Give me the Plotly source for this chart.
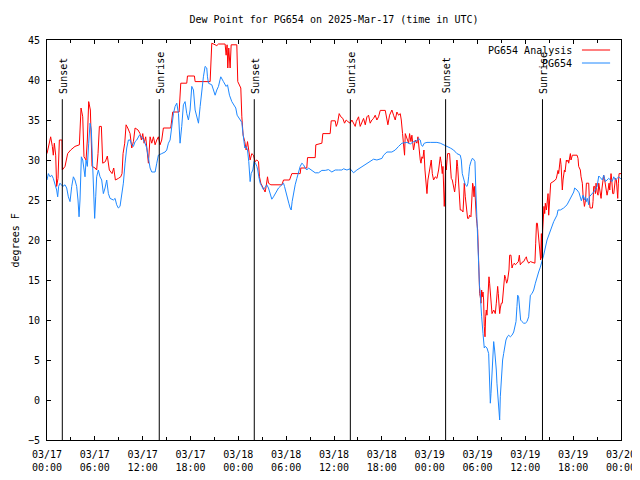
import pandas as pd
import plotly.graph_objects as go

BASE = pd.Timestamp("2025-03-17 00:00")

# hours since 03/17 00:00 UTC, dew point (F)
analysis_hours = [0.0, 0.17, 0.46, 0.67, 0.79, 0.92, 1.09, 1.21, 1.38, 1.55, 1.88, 1.92, 2.26, 2.59, 2.97, 3.51, 4.06, 4.27, 4.48, 4.64,
    4.90, 5.06, 5.23, 5.44, 5.65, 6.03, 6.23, 6.40, 6.57, 6.82, 6.99, 7.32, 7.57, 7.82, 8.16, 8.37, 8.58, 8.95, 9.25, 9.41,
    9.54, 9.75, 9.92, 10.13, 10.42, 10.63, 10.84, 11.05, 11.42, 11.67, 11.84, 12.01, 12.18, 12.38, 12.55, 12.72, 12.93, 13.14, 13.35, 13.56,
    13.77, 13.97, 14.18, 14.39, 14.60, 15.52, 15.65, 15.77, 16.57, 16.69, 16.78, 17.53, 17.62, 18.49, 18.58, 20.46, 20.54, 20.67, 21.30, 21.51,
    22.34, 22.47, 22.59, 22.68, 22.80, 22.97, 23.10, 23.81, 23.93, 24.14, 24.31, 24.44, 24.60, 24.81, 24.98, 25.15, 25.31, 25.48, 25.69, 25.90,
    26.10, 26.32, 26.53, 26.65, 26.82, 27.07, 27.36, 27.49, 27.66, 27.78, 28.08, 29.46, 29.67, 30.42, 30.71, 31.76, 31.84, 32.59, 32.68, 33.64,
    33.72, 34.48, 34.60, 35.52, 35.65, 36.15, 36.28, 36.44, 36.65, 36.86, 37.11, 37.32, 37.53, 37.74, 38.03, 38.24, 38.45, 38.66, 38.79, 39.08,
    39.29, 39.50, 39.71, 39.92, 40.13, 40.33, 40.54, 40.75, 40.96, 41.17, 41.38, 41.59, 41.80, 42.43, 42.64, 42.76, 42.97, 43.26, 43.47, 43.68,
    43.89, 44.10, 44.31, 44.44, 44.60, 44.73, 44.85, 44.94, 45.15, 45.36, 45.48, 45.65, 45.77, 45.98, 46.19, 46.40, 46.53, 46.65, 46.82, 46.91,
    47.03, 47.15, 47.28, 47.41, 47.53, 47.66, 47.78, 47.95, 48.08, 48.20, 48.33, 48.49, 48.70, 48.91, 49.12, 49.25, 49.33, 49.46, 49.58, 49.67,
    49.75, 49.83, 49.92, 50.0, 50.08, 50.17, 50.25, 50.50, 50.59, 50.71, 50.84, 51.0, 51.13, 51.26, 51.34, 51.42, 51.51, 51.63, 51.72, 51.84,
    52.01, 52.18, 52.26, 52.34, 52.47, 52.59, 52.76, 52.89, 53.01, 53.18, 53.31, 53.39, 53.47, 53.56, 53.64, 53.72, 53.85, 53.93, 54.02, 54.10,
    54.18, 54.27, 54.35, 54.44, 54.52, 54.60, 54.69, 54.77, 54.85, 54.94, 55.02, 55.10, 55.19, 55.27, 55.36, 55.44, 55.52, 55.61, 55.69, 55.82,
    56.03, 56.23, 56.36, 56.44, 56.53, 56.61, 56.69, 56.78, 56.86, 56.99, 57.11, 57.20, 57.32, 57.41, 57.53, 57.66, 57.78, 57.95, 58.03, 58.20,
    58.33, 58.45, 58.62, 58.74, 58.95, 59.12, 59.25, 59.37, 59.58, 59.79, 60.0, 60.13, 60.21, 60.42, 60.63, 60.84, 61.05, 61.20, 61.30, 61.40,
    61.51, 61.59, 61.67, 61.76, 61.84, 61.92, 62.01, 62.09, 62.18, 62.26, 62.34, 62.43, 62.51, 62.64, 62.72, 62.85, 62.93, 63.01, 63.10, 63.18,
    63.35, 63.56, 63.77, 63.89, 63.97, 64.10, 64.18, 64.31, 64.39, 64.48, 64.56, 64.64, 64.73, 64.81, 64.90, 64.98, 65.06, 65.15, 65.23, 65.36,
    65.44, 65.56, 65.65, 65.73, 65.82, 65.90, 66.49, 66.61, 66.69, 66.82, 66.90, 66.99, 67.07, 67.15, 67.24, 67.32, 67.41, 67.49, 67.57, 67.66,
    67.95, 68.03, 68.12, 68.41, 68.49, 68.58, 68.70, 68.79, 68.87, 69.0, 69.12, 69.21, 69.33, 69.41, 69.50, 69.62, 69.71, 69.83, 69.92, 70.04,
    70.17, 70.25, 70.38, 70.50, 70.59, 70.67, 70.75, 70.84, 70.96, 71.09, 71.17, 71.30, 71.42, 71.51, 71.59, 71.67, 71.76, 72.0]
analysis_dewpt = [30.8, 31.5, 32.9, 31.7, 30.6, 32.1, 30.6, 26.7, 27.7, 32.5, 32.5, 28.75, 29.2, 30.8, 31.25, 31.7, 31.9, 36.5, 35.4, 30.4,
    30.0, 32.5, 37.3, 36.25, 29.2, 29.0, 28.75, 30.8, 34.2, 34.2, 29.6, 29.8, 30.5, 28.75, 28.3, 29.0, 27.5, 27.7, 27.9, 28.3,
    30.8, 32.1, 34.4, 34.0, 33.3, 31.5, 32.3, 34.0, 33.75, 33.3, 32.5, 33.3, 32.1, 32.9, 31.25, 29.6, 32.9, 32.1, 32.9, 31.9,
    32.5, 32.9, 31.9, 32.5, 34.0, 34.0, 35.0, 36.0, 36.0, 37.7, 39.6, 39.6, 40.5, 40.5, 39.8, 39.8, 42.1, 44.6, 44.3, 44.5,
    44.5, 43.1, 44.4, 41.5, 44.0, 41.5, 44.4, 44.4, 39.8, 39.4, 39.0, 35.4, 33.1, 32.3, 31.25, 32.3, 30.8, 30.0, 30.8, 30.6,
    29.8, 30.0, 29.8, 27.9, 27.1, 26.5, 26.0, 26.7, 27.9, 27.1, 26.9, 26.9, 27.5, 27.5, 28.3, 28.3, 29.0, 29.0, 30.3, 30.3,
    31.9, 32.1, 33.3, 33.3, 34.9, 34.9, 34.2, 34.6, 35.8, 35.4, 35.2, 34.6, 35.0, 34.8, 34.6, 35.0, 34.6, 34.2, 34.8, 35.4,
    34.2, 34.8, 35.2, 34.4, 35.4, 35.6, 34.6, 35.0, 35.2, 35.6, 35.0, 35.4, 36.2, 36.2, 34.6, 34.4, 35.6, 36.25, 35.6, 35.0,
    36.0, 35.6, 35.8, 35.0, 33.3, 32.1, 30.6, 33.3, 32.7, 32.1, 33.3, 32.3, 33.1, 31.25, 32.5, 32.1, 32.9, 31.25, 30.0, 29.6,
    30.4, 30.2, 31.25, 28.75, 27.7, 25.8, 27.5, 28.5, 28.75, 30.0, 28.3, 27.5, 27.9, 27.7, 28.75, 29.6, 30.4, 29.6, 28.3, 29.2,
    25.8, 24.2, 26.25, 30.0, 28.75, 30.4, 30.8, 30.8, 29.2, 27.7, 27.5, 26.7, 26.0, 27.1, 29.0, 30.0, 29.2, 27.5, 25.4, 23.75,
    23.75, 23.5, 25.0, 27.1, 25.4, 24.2, 22.7, 22.7, 23.1, 22.9, 25.0, 27.1, 26.7, 25.4, 26.7, 24.2, 22.9, 22.1, 21.25, 18.75,
    15.4, 13.3, 12.9, 12.1, 13.75, 12.9, 13.5, 12.5, 9.2, 7.9, 10.4, 11.25, 10.6, 12.1, 14.6, 15.4, 14.6, 13.3, 12.5, 10.8,
    11.25, 10.8, 12.1, 13.75, 14.2, 13.3, 12.1, 10.8, 11.5, 12.1, 12.1, 13.1, 14.2, 15.6, 15.2, 14.6, 15.0, 16.25, 18.1, 18.1,
    16.5, 16.9, 17.1, 16.9, 17.1, 17.3, 18.1, 16.9, 17.2, 17.3, 17.7, 17.9, 17.5, 17.1, 17.3, 17.2, 17.2, 17.1, 19.6, 22.1,
    22.1, 21.25, 20.0, 19.2, 17.7, 17.5, 20.8, 17.7, 21.25, 23.3, 24.2, 23.3, 24.6, 23.75, 25.0, 25.8, 23.1, 25.0, 26.25, 27.1,
    27.2, 27.3, 27.5, 27.7, 28.3, 28.7, 28.3, 29.6, 30.2, 29.4, 28.3, 26.25, 27.5, 27.9, 28.75, 28.5, 29.2, 30.0, 29.8, 30.0,
    29.6, 30.2, 30.8, 30.0, 30.2, 30.6, 30.6, 30.2, 29.2, 29.0, 28.75, 27.9, 27.5, 27.1, 25.6, 24.8, 24.2, 24.6, 25.2, 27.1,
    27.1, 25.0, 24.0, 24.0, 24.8, 26.7, 26.7, 25.8, 27.1, 26.0, 25.6, 27.1, 26.25, 25.6, 25.2, 26.5, 27.7, 28.1, 27.7, 27.1,
    26.25, 25.6, 26.25, 27.1, 26.25, 28.3, 28.3, 27.5, 25.8, 25.8, 26.9, 27.7, 27.5, 25.8, 25.2, 27.1, 28.3, 28.3]

station_hours = [0.0, 0.17, 0.38, 0.59, 0.79, 1.0, 1.21, 1.34, 1.46, 1.63, 1.97, 2.26, 2.47, 2.68, 2.89, 3.10, 3.31, 3.51, 3.72, 3.89,
    4.02, 4.14, 4.31, 4.48, 4.64, 4.77, 4.90, 5.06, 5.23, 5.40, 5.56, 5.73, 5.90, 5.98, 6.11, 6.23, 6.44, 6.65, 6.86, 7.07,
    7.28, 7.49, 7.70, 7.91, 8.33, 8.54, 8.74, 8.95, 9.16, 9.37, 9.58, 9.79, 10.0, 10.21, 10.42, 10.63, 10.84, 11.05, 11.26, 11.59,
    11.88, 12.09, 12.30, 12.51, 12.72, 12.93, 13.14, 13.56, 13.77, 13.97, 14.39, 14.81, 15.02, 15.23, 15.44, 15.65, 15.86, 16.07, 16.28, 16.49,
    16.69, 16.90, 17.11, 17.32, 17.53, 17.74, 17.95, 18.16, 18.37, 18.58, 18.79, 19.0, 19.21, 19.41, 19.62, 19.83, 20.04, 20.13, 20.25, 20.67,
    20.88, 21.09, 21.30, 21.51, 21.72, 21.80, 22.13, 22.47, 22.64, 22.89, 23.18, 23.47, 23.68, 23.85, 24.23, 24.44, 24.56, 24.69, 24.81, 24.98,
    25.15, 25.31, 25.48, 25.61, 25.82, 25.98, 26.15, 26.32, 26.44, 26.57, 26.74, 26.95, 27.15, 27.36, 27.57, 27.78, 27.99, 28.20, 28.41, 28.62,
    28.83, 29.04, 29.25, 29.46, 29.67, 29.79, 30.0, 30.17, 30.33, 30.50, 30.63, 30.75, 30.92, 31.13, 31.34, 31.55, 31.76, 31.97, 32.18, 32.38,
    32.59, 32.80, 33.22, 33.64, 34.06, 34.48, 34.90, 35.31, 35.73, 36.15, 36.57, 36.99, 37.20, 37.62, 38.03, 38.24, 38.45, 38.87, 39.29, 39.71,
    40.13, 40.54, 40.96, 41.38, 41.80, 42.01, 42.22, 42.64, 43.26, 43.68, 44.10, 44.52, 45.15, 45.56, 45.98, 46.40, 46.61, 46.82, 46.95, 47.11,
    47.32, 47.66, 48.08, 48.49, 48.91, 49.33, 49.75, 50.17, 50.59, 51.0, 51.42, 51.84, 51.97, 52.09, 52.26, 52.47, 52.68, 52.80, 52.89, 53.01,
    53.18, 53.35, 53.51, 53.68, 53.79, 53.91, 54.0, 54.08, 54.16, 54.25, 54.31, 54.39, 54.52, 54.69, 54.77, 54.85, 54.98, 55.19, 55.40, 55.52,
    55.61, 55.69, 55.82, 55.94, 56.03, 56.15, 56.23, 56.36, 56.44, 56.53, 56.65, 56.78, 56.86, 56.94, 57.07, 57.15, 57.28, 57.41, 57.57, 57.74,
    57.91, 58.12, 58.33, 58.54, 58.66, 58.83, 58.95, 59.04, 59.16, 59.29, 59.41, 59.58, 59.79, 60.0, 60.21, 60.42, 60.54, 60.63, 60.84, 61.05,
    61.26, 61.46, 61.67, 61.88, 62.09, 62.30, 62.72, 63.14, 63.56, 63.97, 64.10, 64.39, 64.81, 65.23, 65.65, 66.07, 66.19, 66.49, 66.74, 66.90,
    67.03, 67.24, 67.41, 67.53, 67.66, 67.78, 67.95, 68.03, 68.37, 68.79, 69.0, 69.21, 69.41, 69.67, 69.83, 70.04, 70.46, 70.88, 71.09, 71.30,
    71.71, 72.0]
station_dewpt = [27.5, 28.3, 27.9, 28.1, 27.7, 27.1, 26.25, 25.4, 26.7, 27.1, 26.7, 26.9, 26.5, 25.4, 24.8, 26.7, 27.9, 27.5, 26.7, 25.0,
    22.9, 25.0, 30.4, 30.0, 28.75, 27.9, 30.0, 29.2, 32.1, 34.6, 33.75, 29.6, 26.25, 22.7, 25.4, 27.9, 28.75, 27.9, 27.5, 25.8,
    26.5, 27.5, 25.8, 25.2, 25.0, 25.2, 24.4, 24.0, 24.2, 25.4, 27.1, 29.6, 31.5, 32.5, 32.5, 31.9, 31.7, 32.3, 32.5, 33.1,
    32.9, 32.5, 32.1, 31.5, 30.2, 29.0, 28.5, 28.5, 29.6, 30.6, 30.8, 31.0, 31.25, 32.1, 32.5, 34.2, 35.8, 36.7, 37.1, 35.8,
    32.1, 34.2, 36.9, 37.3, 35.8, 35.0, 36.25, 39.2, 38.75, 36.25, 35.4, 34.6, 36.7, 38.75, 40.4, 41.7, 41.5, 40.4, 39.6, 39.4,
    38.75, 38.1, 38.75, 39.2, 40.1, 40.4, 39.8, 39.2, 39.4, 38.1, 37.3, 36.9, 36.5, 35.6, 35.0, 34.7, 33.5, 32.3, 31.5, 31.7,
    31.25, 29.8, 27.3, 28.3, 28.75, 29.8, 29.6, 29.2, 28.75, 27.9, 27.1, 26.7, 26.3, 26.6, 26.9, 26.5, 25.8, 25.1, 25.4, 25.8,
    26.25, 26.5, 26.7, 26.9, 27.1, 26.7, 26.0, 25.4, 24.6, 24.0, 23.75, 24.8, 25.8, 26.9, 27.7, 28.5, 29.2, 29.6, 29.4, 29.0,
    28.75, 29.0, 28.75, 28.4, 28.4, 28.7, 28.7, 28.8, 28.5, 28.75, 28.75, 28.75, 28.9, 28.75, 28.9, 28.7, 28.4, 28.75, 29.0, 29.25,
    29.6, 29.8, 30.1, 30.0, 30.1, 30.2, 30.6, 31.0, 31.0, 31.25, 31.7, 32.1, 32.2, 32.0, 32.3, 32.4, 32.7, 32.5, 31.9, 31.7,
    32.1, 32.2, 32.2, 32.2, 32.2, 32.1, 31.9, 31.75, 31.5, 31.25, 30.8, 30.6, 30.0, 28.3, 27.7, 26.9, 26.7, 27.1, 27.9, 29.2,
    29.8, 30.2, 30.1, 29.8, 26.25, 22.9, 20.0, 17.9, 15.0, 14.2, 13.75, 11.7, 10.4, 8.3, 7.1, 6.5, 6.7, 6.5, 5.8, 2.1,
    -0.4, 0.8, 2.9, 5.4, 7.3, 6.25, 5.4, 3.75, 2.1, 0.8, -0.6, -2.5, 0.4, 2.1, 3.75, 5.0, 5.8, 6.7, 7.5, 7.9,
    8.1, 7.9, 8.1, 8.5, 9.0, 9.8, 11.7, 13.1, 12.9, 11.25, 10.0, 9.8, 9.6, 9.6, 9.8, 10.4, 12.9, 13.1, 13.3, 13.75,
    14.6, 15.4, 16.0, 16.6, 17.3, 18.1, 20.0, 21.25, 22.3, 23.1, 23.75, 23.75, 24.0, 24.4, 25.2, 26.0, 26.5, 26.25, 25.9, 25.4,
    24.9, 25.6, 25.0, 25.4, 24.8, 25.2, 24.4, 25.4, 25.8, 26.25, 26.7, 28.0, 27.8, 27.5, 28.1, 27.3, 27.7, 27.3, 27.9, 27.5,
    27.9, 27.6]

sun_event_hours = [1.92, 14.08, 26.0, 38.05, 50.0, 62.15]
sun_event_labels = ["Sunset", "Sunrise", "Sunset", "Sunrise", "Sunset", "Sunrise"]

series_names = ["PG654 Analysis", "PG654"]
series_colors = ["#ff0000", "#1e88ff"]

FONT = "DejaVu Sans Mono"

# the page places the figure 8 px in from the top-left corner
FIG_W, FIG_H = 632, 472


def to_time(hours):
    return BASE + pd.to_timedelta(hours, unit="h")


fig = go.Figure()
fig.add_trace(go.Scatter(x=to_time(analysis_hours), y=analysis_dewpt, mode="lines",
                         name=series_names[0], line=dict(color=series_colors[0], width=1)))
fig.add_trace(go.Scatter(x=to_time(station_hours), y=station_dewpt, mode="lines",
                         name=series_names[1], line=dict(color=series_colors[1], width=1)))

for h, lab in zip(sun_event_hours, sun_event_labels):
    t = to_time(h)
    fig.add_shape(type="line", xref="x", yref="y", x0=t, x1=t, y0=-5, y1=37.6,
                  line=dict(color="black", width=1))
    fig.add_annotation(x=t, y=38.05, xref="x", yref="y", text=lab, textangle=-90,
                       showarrow=False, xanchor="center", yanchor="bottom", xshift=1,
                       font=dict(family=FONT, size=10, color="black"))

# key (top right, text right-aligned, sample line to its right)
for i, (nm, col) in enumerate(zip(series_names, series_colors)):
    ypos = 0.975 - i * 0.0325
    fig.add_annotation(x=0.918, y=ypos, xref="paper", yref="paper", text=nm, showarrow=False,
                       xanchor="right", yanchor="middle", font=dict(family=FONT, size=10, color="black"))
    fig.add_shape(type="line", xref="paper", yref="paper", x0=0.932, x1=0.981, y0=ypos, y1=ypos,
                  line=dict(color=col, width=1))

# y axis title
fig.add_annotation(x=-0.055, y=0.5, xref="paper", yref="paper", text="degrees F", textangle=-90,
                   showarrow=False, xanchor="center", yanchor="middle",
                   font=dict(family=FONT, size=10, color="black"))

fig.update_layout(
    width=FIG_W, height=FIG_H,
    margin=dict(l=39, r=19, t=32, b=40, autoexpand=False),
    paper_bgcolor="white", plot_bgcolor="white",
    showlegend=False,
    font=dict(family=FONT, size=10, color="black"),
    title=dict(text="Dew Point for PG654 on 2025-Mar-17 (time in UTC)", x=0.5, xref="paper",
               y=1 - 11 / FIG_H, yref="container", xanchor="center", yanchor="middle",
               font=dict(family=FONT, size=10, color="black")),
)
fig.update_xaxes(
    type="date", range=[to_time(0), to_time(72)], tick0=to_time(0), dtick=6 * 3600 * 1000,
    tickformat="%m/%d<br>%H:%M", ticks="inside", ticklen=4, tickcolor="black",
    showline=True, linecolor="black", linewidth=1, mirror="allticks",
    showgrid=False, zeroline=False, automargin=False,
    minor=dict(dtick=3 * 3600 * 1000, ticks="inside", ticklen=3, tickcolor="black", showgrid=False),
    tickfont=dict(family=FONT, size=10, color="black"),
    ticklabelstandoff=5,
)
fig.update_yaxes(
    range=[-5, 45], tick0=-5, dtick=5, ticks="inside", ticklen=4, tickcolor="black",
    showline=True, linecolor="black", linewidth=1, mirror="allticks",
    showgrid=False, zeroline=False, automargin=False,
    tickfont=dict(family=FONT, size=10, color="black"),
    ticklabelstandoff=4,
)

fig.write_html("out.html")
